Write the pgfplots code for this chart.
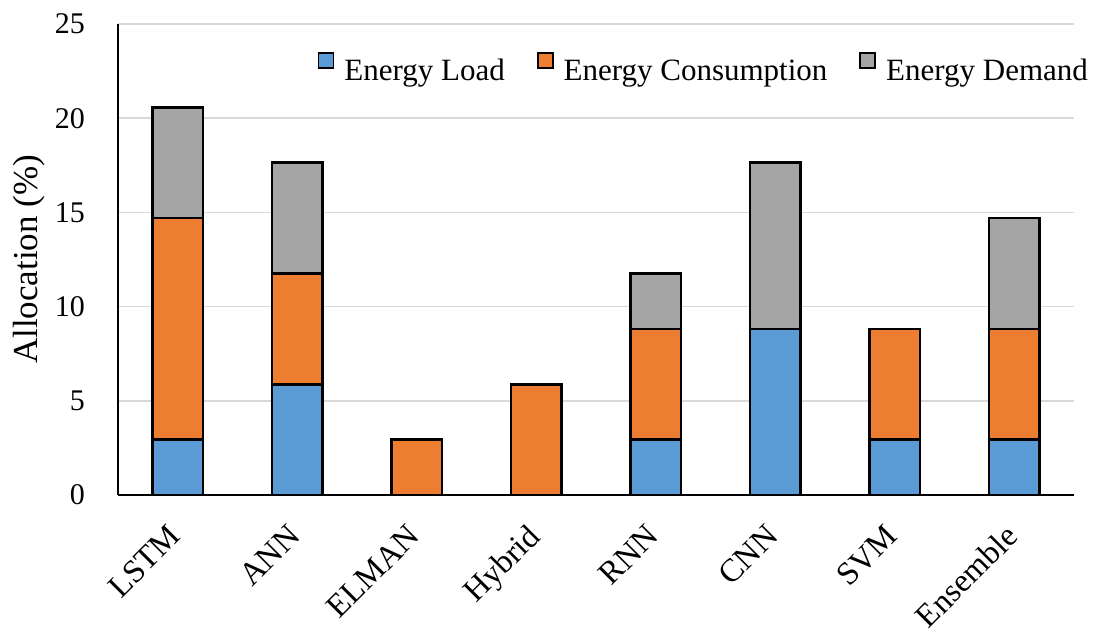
\documentclass[border=0pt]{standalone}
\usepackage{fontspec}
\setmainfont{Liberation Serif}
\usepackage{pgfplots}
\pgfplotsset{compat=1.18}
\definecolor{cload}{HTML}{5B9BD5}
\definecolor{ccons}{HTML}{ED7D31}
\definecolor{cdem}{HTML}{A5A5A5}
\definecolor{cgrid}{HTML}{D9D9D9}
\begin{document}
\begin{tikzpicture}
\begin{axis}[
  at={(0pt,0pt)}, anchor=south west,
  scale only axis, width=956pt, height=471pt,
  ybar stacked, bar width=0.42,
  xmin=-0.5, xmax=7.5, ymin=0, ymax=25,
  ytick={0,5,...,25},
  xtick={0,...,7},
  xticklabels={LSTM,ANN,ELMAN,Hybrid,RNN,CNN,SVM,Ensemble},
  axis x line*=bottom, axis y line*=left,
  axis line style={black, line width=2pt, -},
  major tick length=0pt,
  ymajorgrids, grid style={cgrid, line width=1.5pt},
  /pgf/number format/assume math mode=true,
  yticklabel style={font=\fontsize{30}{36}\selectfont, anchor=east, inner sep=0pt, xshift=-33pt},
  xticklabel style={font=\fontsize{32.5}{36}\selectfont, rotate=45, anchor=north east, inner sep=0pt, xshift=-27pt, yshift=-12pt},
  ylabel={Allocation (\%)},
  ylabel style={font=\fontsize{35}{40}\selectfont, at={(axis description cs:-0.093,0.5)}, anchor=center},
  legend style={draw=none, fill=none, at={(axis description cs:1.0146,0.9087)}, anchor=east,
    legend columns=-1, font=\fontsize{31}{36}\selectfont, inner sep=0pt, outer sep=0pt,
    nodes={inner sep=0pt},
    /tikz/every odd column/.append style={column sep=10pt},
    /tikz/every even column/.append style={column sep=32pt}},
  legend image code/.code={\draw[#1, line width=1.8pt] (0pt,3pt) rectangle (15pt,18pt);},
]
\addplot[fill=cload, draw=black, line width=2.6pt] coordinates {(0,2.94) (1,5.88) (2,0) (3,0) (4,2.94) (5,8.82) (6,2.94) (7,2.94)};
\addplot[fill=ccons, draw=black, line width=2.6pt] coordinates {(0,11.76) (1,5.88) (2,2.94) (3,5.88) (4,5.88) (5,0) (6,5.88) (7,5.88)};
\addplot[fill=cdem, draw=black, line width=2.6pt] coordinates {(0,5.88) (1,5.88) (2,0) (3,0) (4,2.94) (5,8.82) (6,0) (7,5.88)};
\legend{Energy Load, Energy Consumption, Energy Demand}
\end{axis}
\pgfresetboundingbox
\useasboundingbox (-118pt,-141pt) rectangle (976pt,495pt);
\end{tikzpicture}
\end{document}
